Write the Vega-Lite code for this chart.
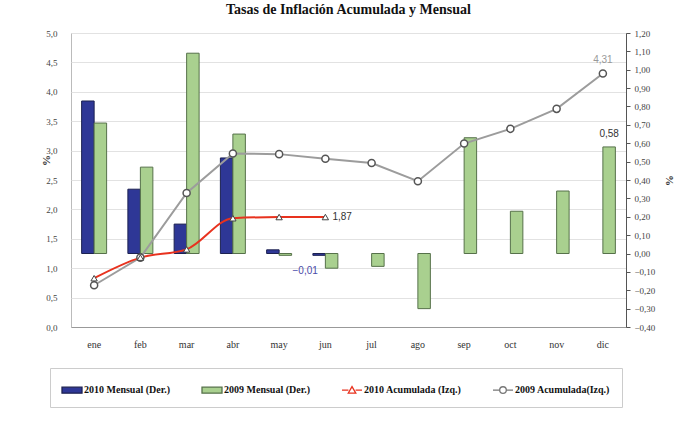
{
  "$schema": "https://vega.github.io/schema/vega-lite/v6.json",
  "width": 555,
  "height": 294,
  "autosize": {"type": "none"},
  "padding": {"left": 71, "top": 33, "right": 73, "bottom": 96},
  "background": "white",
  "title": {"text": "Tasas de Inflación Acumulada y Mensual", "font": "Liberation Serif", "fontSize": 14, "fontWeight": "bold", "color": "#111", "offset": 12, "anchor": "middle"},
  "config": {
    "locale": {"number": {"decimal": ",", "thousands": ".", "grouping": [3], "currency": ["", ""]}},
    "view": {"stroke": "#bbb"},
    "axis": {"labelFont": "Liberation Serif", "titleFont": "Liberation Serif", "labelColor": "#444", "titleColor": "#333", "labelOverlap": false, "labelFlush": false}
  },
  "datasets": {
    "barras": [
      {"mes": "ene", "serie": "2010 Mensual (Der.)", "valor": 0.83},
      {"mes": "feb", "serie": "2010 Mensual (Der.)", "valor": 0.35},
      {"mes": "mar", "serie": "2010 Mensual (Der.)", "valor": 0.16},
      {"mes": "abr", "serie": "2010 Mensual (Der.)", "valor": 0.52},
      {"mes": "may", "serie": "2010 Mensual (Der.)", "valor": 0.02},
      {"mes": "jun", "serie": "2010 Mensual (Der.)", "valor": -0.01},
      {"mes": "ene", "serie": "2009 Mensual (Der.)", "valor": 0.71},
      {"mes": "feb", "serie": "2009 Mensual (Der.)", "valor": 0.47},
      {"mes": "mar", "serie": "2009 Mensual (Der.)", "valor": 1.09},
      {"mes": "abr", "serie": "2009 Mensual (Der.)", "valor": 0.65},
      {"mes": "may", "serie": "2009 Mensual (Der.)", "valor": -0.01},
      {"mes": "jun", "serie": "2009 Mensual (Der.)", "valor": -0.08},
      {"mes": "jul", "serie": "2009 Mensual (Der.)", "valor": -0.07},
      {"mes": "ago", "serie": "2009 Mensual (Der.)", "valor": -0.30},
      {"mes": "sep", "serie": "2009 Mensual (Der.)", "valor": 0.63},
      {"mes": "oct", "serie": "2009 Mensual (Der.)", "valor": 0.23},
      {"mes": "nov", "serie": "2009 Mensual (Der.)", "valor": 0.34},
      {"mes": "dic", "serie": "2009 Mensual (Der.)", "valor": 0.58}
    ],
    "acum2010": [
      {"mes": "ene", "valor": 0.83},
      {"mes": "feb", "valor": 1.18},
      {"mes": "mar", "valor": 1.32},
      {"mes": "abr", "valor": 1.85},
      {"mes": "may", "valor": 1.87},
      {"mes": "jun", "valor": 1.87}
    ],
    "acum2009": [
      {"mes": "ene", "valor": 0.71},
      {"mes": "feb", "valor": 1.18},
      {"mes": "mar", "valor": 2.28},
      {"mes": "abr", "valor": 2.95},
      {"mes": "may", "valor": 2.94},
      {"mes": "jun", "valor": 2.86},
      {"mes": "jul", "valor": 2.79},
      {"mes": "ago", "valor": 2.48},
      {"mes": "sep", "valor": 3.12},
      {"mes": "oct", "valor": 3.37},
      {"mes": "nov", "valor": 3.71},
      {"mes": "dic", "valor": 4.31}
    ],
    "leyenda": [
      {"mes": "ene", "serie": "2010 Mensual (Der.)", "valor": null},
      {"mes": "ene", "serie": "2009 Mensual (Der.)", "valor": null},
      {"mes": "ene", "serie": "2010 Acumulada (Izq.)", "valor": null},
      {"mes": "ene", "serie": "2009 Acumulada(Izq.)", "valor": null}
    ]
  },
  "layer": [
    {
      "encoding": {
        "x": {"field": "mes", "type": "nominal", "sort": null,
          "scale": {"domain": ["ene", "feb", "mar", "abr", "may", "jun", "jul", "ago", "sep", "oct", "nov", "dic"], "paddingInner": 0.46, "paddingOuter": 0.23},
          "axis": {"title": null, "orient": "bottom", "labelAngle": 0, "ticks": false, "domainColor": "#999", "labelPadding": 12, "labelFontSize": 10, "labelColor": "#333", "grid": false}},
        "xOffset": {"field": "serie", "type": "nominal", "sort": null, "scale": {"domain": ["2010 Mensual (Der.)", "2009 Mensual (Der.)"], "paddingInner": 0, "paddingOuter": 0}},
        "y": {"field": "valor", "type": "quantitative",
          "scale": {"domain": [-0.4, 1.2], "nice": false, "zero": false},
          "axis": {"orient": "right", "title": "%", "titleAngle": 90, "titleX": 37, "titleY": 147, "titleFontSize": 11, "titleFontWeight": "bold", "values": [-0.4, -0.3, -0.2, -0.1, 0, 0.1, 0.2, 0.3, 0.4, 0.5, 0.6, 0.7, 0.8, 0.9, 1.0, 1.1, 1.2], "format": ".2f", "grid": false, "ticks": true, "tickSize": 4, "tickColor": "#555", "domainColor": "#555", "labelPadding": 4, "labelFontSize": 9}}
      },
      "layer": [
        {
          "data": {"name": "barras"},
          "mark": {"type": "bar", "strokeWidth": 1},
          "encoding": {
            "fill": {"field": "serie", "type": "nominal",
              "scale": {"domain": ["2010 Mensual (Der.)", "2009 Mensual (Der.)", "2010 Acumulada (Izq.)", "2009 Acumulada(Izq.)"], "range": ["#2e3796", "#a9d08f", "white", "white"]}},
            "stroke": {"field": "serie", "type": "nominal",
              "scale": {"domain": ["2010 Mensual (Der.)", "2009 Mensual (Der.)", "2010 Acumulada (Izq.)", "2009 Acumulada(Izq.)"], "range": ["#1c2150", "#56714a", "#e8321e", "#777"]}}
          }
        },
        {
          "data": {"name": "barras"},
          "transform": [{"filter": "datum.mes == 'dic'"}],
          "mark": {"type": "text", "font": "Liberation Sans", "fontSize": 10, "color": "#333", "dy": -8, "baseline": "bottom"},
          "encoding": {
            "text": {"field": "valor", "type": "quantitative", "format": ".2f"}
          }
        },
        {
          "data": {"name": "barras"},
          "transform": [{"filter": "datum.mes == 'jun' && datum.serie == '2010 Mensual (Der.)'"}],
          "mark": {"type": "text", "font": "Liberation Sans", "fontSize": 10, "color": "#4a4aa8", "dy": 16, "dx": -14, "baseline": "middle"},
          "encoding": {
            "text": {"field": "valor", "type": "quantitative", "format": ".2f"}
          }
        }
      ]
    },
    {
      "encoding": {
        "x": {"field": "mes", "type": "nominal", "sort": null,
          "scale": {"domain": ["ene", "feb", "mar", "abr", "may", "jun", "jul", "ago", "sep", "oct", "nov", "dic"], "paddingInner": 0.46, "paddingOuter": 0.23},
          "axis": {"title": null, "orient": "bottom", "labelAngle": 0, "ticks": false, "domainColor": "#999", "labelPadding": 12, "labelFontSize": 10, "labelColor": "#333", "grid": false}},
        "y": {"field": "valor", "type": "quantitative",
          "scale": {"domain": [0, 5], "nice": false},
          "axis": {"orient": "left", "title": "%", "titleX": -20, "titleY": 127, "titleFontSize": 11, "titleFontWeight": "bold", "values": [0, 0.5, 1, 1.5, 2, 2.5, 3, 3.5, 4, 4.5, 5], "format": ".1f", "grid": true, "gridColor": "#e2e2e2", "ticks": false, "domain": false, "labelPadding": 14, "labelFontSize": 9}}
      },
      "layer": [
        {
          "data": {"name": "acum2009"},
          "mark": {"type": "line", "color": "#9c9c9c", "strokeWidth": 2}
        },
        {
          "data": {"name": "acum2010"},
          "mark": {"type": "line", "color": "#e8321e", "strokeWidth": 2, "interpolate": "monotone"}
        },
        {
          "data": {"name": "acum2009"},
          "mark": {"type": "point", "shape": "circle", "filled": false, "fill": "white", "stroke": "#555", "strokeWidth": 1.5, "size": 50, "opacity": 1}
        },
        {
          "data": {"name": "acum2010"},
          "mark": {"type": "point", "shape": "triangle-up", "filled": false, "fill": "white", "stroke": "#444", "strokeWidth": 1, "size": 40, "opacity": 1}
        },
        {
          "data": {"name": "acum2009"},
          "transform": [{"filter": "datum.mes == 'dic'"}],
          "mark": {"type": "text", "font": "Liberation Sans", "fontSize": 10, "color": "#999", "dy": -9, "baseline": "bottom"},
          "encoding": {
            "text": {"field": "valor", "type": "quantitative", "format": ".2f"}
          }
        },
        {
          "data": {"name": "acum2010"},
          "transform": [{"filter": "datum.mes == 'jun'"}],
          "mark": {"type": "text", "font": "Liberation Sans", "fontSize": 10, "color": "#333", "dx": 7, "align": "left", "baseline": "middle"},
          "encoding": {
            "text": {"field": "valor", "type": "quantitative", "format": ".2f"}
          }
        },
        {
          "data": {"name": "leyenda"},
          "mark": {"type": "point", "filled": false, "opacity": 1},
          "encoding": {
            "fill": {"field": "serie", "type": "nominal",
              "legend": {"title": null, "orient": "none", "legendX": -21, "legendY": 335, "direction": "horizontal", "columns": 4, "columnPadding": 28, "padding": 11, "strokeColor": "#ccc", "fillColor": "white", "labelFont": "Liberation Serif", "labelFontWeight": "bold", "labelFontSize": 10, "labelColor": "#111", "labelOffset": 1, "symbolSize": 400, "symbolStrokeWidth": 1.3, "symbolOpacity": 1, "labelLimit": 220}},
            "stroke": {"field": "serie", "type": "nominal",
              "legend": {"title": null, "orient": "none", "legendX": -21, "legendY": 335, "direction": "horizontal", "columns": 4, "columnPadding": 28, "padding": 11, "strokeColor": "#ccc", "fillColor": "white", "labelFont": "Liberation Serif", "labelFontWeight": "bold", "labelFontSize": 10, "labelColor": "#111", "labelOffset": 1, "symbolSize": 400, "symbolStrokeWidth": 1.3, "symbolOpacity": 1, "labelLimit": 220}},
            "shape": {"field": "serie", "type": "nominal",
              "scale": {"domain": ["2010 Mensual (Der.)", "2009 Mensual (Der.)", "2010 Acumulada (Izq.)", "2009 Acumulada(Izq.)"], "range": ["M-1,-0.3H1V0.3H-1Z", "M-1,-0.3H1V0.3H-1Z", "M-1,0H-0.36M0.36,0H1M-0.38,0.3L0,-0.36L0.38,0.3Z", "M-1,0H-0.33M0.33,0H1M-0.33,0A0.33,0.33 0 1,1 0.33,0A0.33,0.33 0 1,1 -0.33,0Z"]},
              "legend": {"title": null, "orient": "none", "legendX": -21, "legendY": 335, "direction": "horizontal", "columns": 4, "columnPadding": 28, "padding": 11, "strokeColor": "#ccc", "fillColor": "white", "labelFont": "Liberation Serif", "labelFontWeight": "bold", "labelFontSize": 10, "labelColor": "#111", "labelOffset": 1, "symbolSize": 400, "symbolStrokeWidth": 1.3, "symbolOpacity": 1, "labelLimit": 220}}
          }
        }
      ]
    }
  ],
  "resolve": {"scale": {"y": "independent"}}
}
